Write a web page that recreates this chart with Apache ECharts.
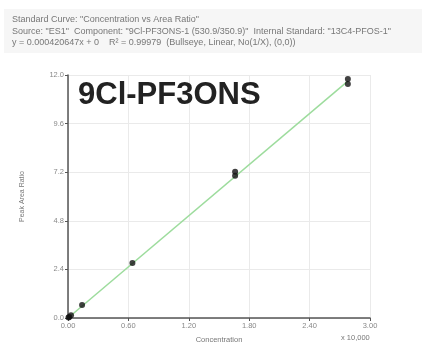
<!DOCTYPE html>
<html><head><meta charset="utf-8">
<script src="https://cdn.jsdelivr.net/npm/echarts@6/dist/echarts.min.js"></script>
<style>html,body{margin:0;padding:0;background:#fff}#c{width:432px;height:343px}</style>
</head><body><div id="c"></div>
<script>
const titleLines = [
  'Standard Curve: "Concentration vs Area Ratio"',
  'Source: "ES1"  Component: "9Cl-PF3ONS-1 (530.9/350.9)"  Internal Standard: "13C4-PFOS-1"',
  'y = 0.000420647x + 0    R\u00b2 = 0.99979  (Bullseye, Linear, No(1/X), (0,0))'
];
const compoundLabel = '9Cl-PF3ONS';
const xTicks = [0, 0.6, 1.2, 1.8, 2.4, 3.0];
const yTicks = [0, 2.4, 4.8, 7.2, 9.6, 12.0];
const concentration = [0.005, 0.012, 0.03, 0.14, 0.64, 1.66, 1.66, 2.78, 2.78];
const areaRatio = [0.02, 0.05, 0.13, 0.64, 2.72, 7.02, 7.22, 11.56, 11.80];
const fitX = [0, 2.78];
const slope = 4.20647;

const chart = echarts.init(document.getElementById('c'));
chart.setOption({
  animation: false,
  backgroundColor: '#fff',
  graphic: [
    {type:'rect', shape:{x:4,y:9,width:418,height:44}, style:{fill:'#f6f6f6'}, z:-1},
    {type:'text', left:12, top:14, style:{text:titleLines.join('\n'), fill:'#777', font:'9px "Liberation Sans"', lineHeight:11.5}},
    {type:'text', left:78, top:80, style:{text:compoundLabel, fill:'#222', font:'bold 31px "Liberation Sans"'}, z:10},
    {type:'text', left:341, top:334, style:{text:'x 10,000', fill:'#777', font:'7.5px "Liberation Sans"'}}
  ],
  grid: {left:68, right:62, top:75, bottom:25, show:true, backgroundColor:'#fff', borderWidth:0, outerBoundsMode:'none', containLabel:false},
  xAxis: {
    type:'value', min:0, max:3.0, interval:0.6,
    name:'Concentration', nameLocation:'middle', nameGap:18,
    nameTextStyle:{color:'#777', fontSize:7.5, fontFamily:'Liberation Sans'},
    axisLine:{lineStyle:{color:'#555', width:1.5}},
    axisTick:{show:true, length:3, lineStyle:{color:'#555'}},
    axisLabel:{color:'#888', fontSize:7.5, margin:4, formatter:v=>v.toFixed(2)},
    splitLine:{show:true, lineStyle:{color:'#eaeaea'}}
  },
  yAxis: {
    type:'value', min:0, max:12.0, interval:2.4,
    name:'Peak Area Ratio', nameLocation:'middle', nameGap:42,
    nameTextStyle:{color:'#777', fontSize:7, fontFamily:'Liberation Sans'},
    axisLine:{show:true, lineStyle:{color:'#555', width:1.5}},
    axisTick:{show:true, length:3, lineStyle:{color:'#555'}},
    axisLabel:{color:'#888', fontSize:7.5, margin:4, formatter:v=>v.toFixed(1)},
    splitLine:{show:true, lineStyle:{color:'#eaeaea'}}
  },
  series: [
    {type:'line', data:fitX.map(x=>[x, x*slope]), symbol:'none', lineStyle:{color:'#9ddc9d', width:1.5}, z:2},
    {type:'scatter', data:concentration.map((x,i)=>[x, areaRatio[i]]), symbol:'circle', symbolSize:6, itemStyle:{color:'#111'}, z:3}
  ]
});
</script></body></html>
